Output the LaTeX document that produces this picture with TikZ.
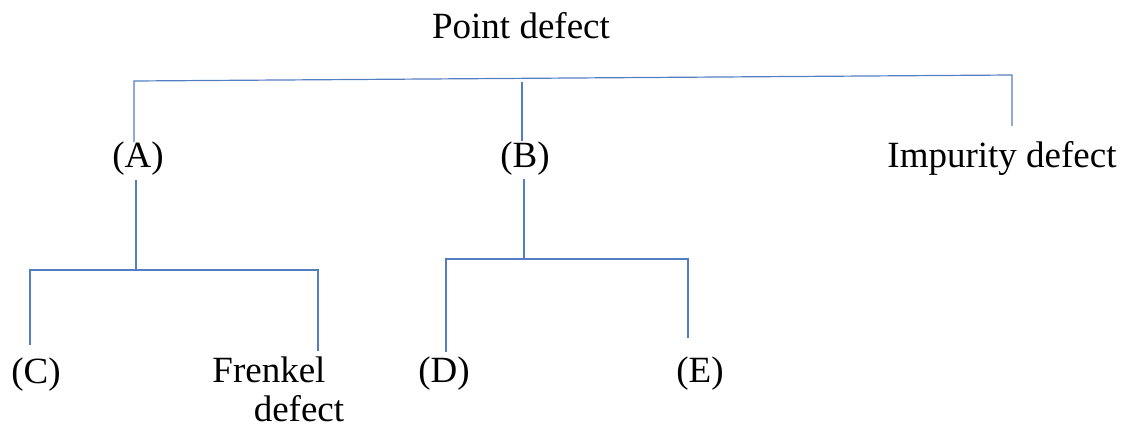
\documentclass[tikz,border=0pt]{standalone}
\usepackage{fontspec}
\setmainfont{Liberation Serif}
\definecolor{treeline}{RGB}{84,126,196}
\begin{document}
\begin{tikzpicture}[x=1pt,y=-1pt,
  lbl/.style={inner sep=0pt, anchor=base, font=\fontsize{37}{44}\selectfont},
  branch/.style={draw=treeline, line width=1.2pt}]
\useasboundingbox (0,0) rectangle (1123,428);
% texts
\node[lbl] (root) at (521,38) {Point defect};
\node[lbl] (A) at (138,167) {(A)};
\node[lbl] (B) at (525,167) {(B)};
\node[lbl] (imp) at (1002,167) {Impurity defect};
\node[lbl] (C) at (36,383) {(C)};
\node[lbl] (fr) at (269,382) {Frenkel};
\node[lbl] (frd) at (299,421) {defect};
\node[lbl] (D) at (444,382) {(D)};
\node[lbl] (E) at (700,382) {(E)};
% junction coordinates
\coordinate (aTop) at (134,142);
\coordinate (barL) at (134,81);
\coordinate (barR) at (1012,75);
\coordinate (impTop) at (1012,126);
\coordinate (bJ) at (522,82);
\coordinate (bTop) at (522,141);
\coordinate (aBot) at (136,180);
\coordinate (aJ) at (136,270);
\coordinate (cBarL) at (30,270);
\coordinate (cBarR) at (318,270);
\coordinate (cTop) at (30,345);
\coordinate (frTop) at (318,351);
\coordinate (bBot) at (524,179);
\coordinate (bJ2) at (524,259);
\coordinate (dBarL) at (446,259);
\coordinate (dBarR) at (688,259);
\coordinate (dTop) at (446,352);
\coordinate (eTop) at (688,338);
% connectors
\draw[branch] (aTop) -- (barL) -- (barR) -- (impTop);
\draw[branch] (bJ) -- (bTop);
\draw[branch] (aBot) -- (aJ);
\draw[branch] (cTop) -- (cBarL) -- (cBarR) -- (frTop);
\draw[branch] (bBot) -- (bJ2);
\draw[branch] (dTop) -- (dBarL) -- (dBarR) -- (eTop);
\end{tikzpicture}
\end{document}
